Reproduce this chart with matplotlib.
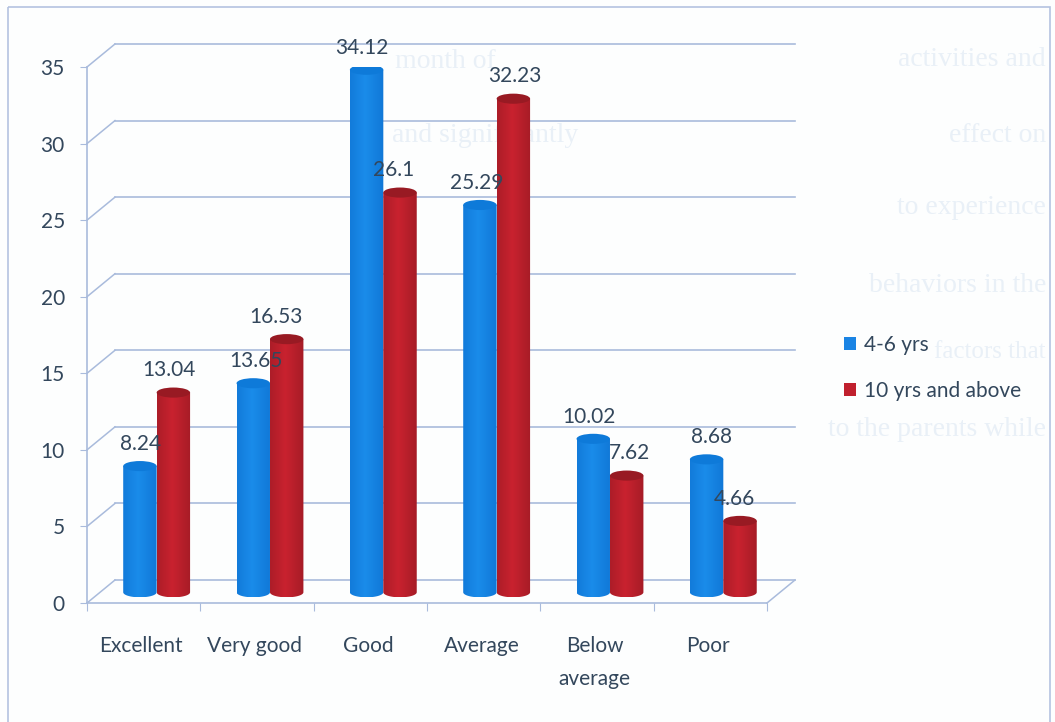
import numpy as np
from matplotlib import pyplot as plt
from matplotlib.colors import to_rgb
from matplotlib.patches import Ellipse, Patch, Rectangle
from matplotlib.path import Path

categorias = ['Excellent', 'Very good', 'Good', 'Average', 'Below\naverage', 'Poor']
serie_4_6 = [8.24, 13.65, 34.12, 25.29, 10.02, 8.68]
serie_10 = [13.04, 16.53, 26.1, 32.23, 7.62, 4.66]
etiquetas_4_6 = ['8.24', '13.65', '34.12', '25.29', '10.02', '8.68']
etiquetas_10 = ['13.04', '16.53', '26.1', '32.23', '7.62', '4.66']

W, H = 1055, 722
AZUL = ['#0f74d4', '#1a8cea', '#0e7ad9']
ROJO = ['#a01b25', '#c9222f', '#981a23']
TEXTO = '#33475c'
GRID = '#a9bbdc'
LETRA = 15

plt.rcParams['font.family'] = ['Lato', 'DejaVu Sans']
fig = plt.figure(figsize=(W / 100, H / 100), dpi=100, facecolor='#fdfefe')

# fondo: marco y texto de la pagina escaneada que se transparenta
fondo = fig.add_axes([0, 0, 1, 1], zorder=0)
fondo.set_xlim(0, W)
fondo.set_ylim(H, 0)
fondo.axis('off')
fondo.add_patch(Rectangle((8, 7), 1042, 730, fill=False, ec='#b4c2e0', lw=1.2))
fantasma = [
    (1046, 60, 'activities and', 20), (1046, 135, 'effect on', 20), (1046, 208, 'to experience', 20),
    (1046, 285, 'behaviors in the', 20), (1046, 352, 'factors that', 18), (1046, 430, 'to the parents while', 20),
]
for x, y, s, t in fantasma:
    fondo.text(x, y, s, color='#e9f0f7', fontsize=t, family='Liberation Serif', va='center', ha='right')
fondo.text(395, 62, 'month of', color='#e9f0f7', fontsize=20, family='Liberation Serif', va='center')
fondo.text(392, 135, 'and significantly', color='#e9f0f7', fontsize=20, family='Liberation Serif', va='center')

ax = fig.add_axes([87 / W, 1 - 603 / H, 680 / W, 536 / H], zorder=1)
ax.patch.set_alpha(0)

# pared y piso del grafico 3D
dx, dy = 28 / 113.3, 23 / 15.31
for v in range(0, 40, 5):
    ax.plot([-0.5, -0.5 + dx], [v, v + dy], color=GRID, lw=1.1, clip_on=False, zorder=1)
    ax.plot([-0.5 + dx, 5.5 + dx], [v + dy, v + dy], color=GRID, lw=1.2, clip_on=False, zorder=1)
ax.plot([5.5, 5.5 + dx], [0, dy], color=GRID, lw=1.1, clip_on=False, zorder=1)


def cilindro(x, valor, colores, ancho=0.295, base=0.7):
    alto_elipse = 0.33
    tope = valor + base
    filas = np.linspace(0, 1, 64)
    borde, centro = np.array(to_rgb(colores[0])), np.array(to_rgb(colores[1]))
    perfil = np.interp(filas, [0, 0.45, 1], [0.3, 1, 0.15])
    img = (borde + (centro - borde) * perfil[:, None])[None, :, :]
    izq, der = x - ancho / 2, x + ancho / 2
    im = ax.imshow(img, extent=[izq, der, base - alto_elipse, tope], aspect='auto',
                   zorder=3, interpolation='bilinear')
    t = np.linspace(np.pi, 2 * np.pi, 30)
    xs = x + ancho / 2 * np.cos(t)
    ys = base + alto_elipse * np.sin(t)
    verts = list(zip(xs, ys)) + [(der, tope), (izq, tope), (xs[0], ys[0])]
    im.set_clip_path(Path(verts), transform=ax.transData)
    ax.add_patch(Ellipse((x, tope), ancho, 2 * alto_elipse, fc=colores[2], ec='none', zorder=4))


pos = np.arange(len(categorias))
x_azul = pos - 0.033
x_rojo = pos + 0.262
for i in pos:
    cilindro(x_azul[i], serie_4_6[i], AZUL)
    cilindro(x_rojo[i], serie_10[i], ROJO)

ax.set_xlim(-0.5, 5.5)
ax.set_ylim(0, 35)

# corrimiento horizontal de cada etiqueta respecto de su barra, en px
corr_azul = [1, 3, -5, -3, -4, 5]
corr_rojo = [-4, -11, -6, 1, 3, -6]
for x, v, s, c in zip(x_azul, serie_4_6, etiquetas_4_6, corr_azul):
    ax.annotate(s, (x, v + 0.7), xytext=(c * 0.72, 16), textcoords='offset points',
                ha='center', va='center', fontsize=LETRA, color=TEXTO, zorder=6)
for x, v, s, c in zip(x_rojo, serie_10, etiquetas_10, corr_rojo):
    ax.annotate(s, (x, v + 0.7), xytext=(c * 0.72, 16), textcoords='offset points',
                ha='center', va='center', fontsize=LETRA, color=TEXTO, zorder=6)

for lado in ['top', 'right']:
    ax.spines[lado].set_visible(False)
for lado in ['left', 'bottom']:
    ax.spines[lado].set_color(GRID)
    ax.spines[lado].set_linewidth(1.2)

ax.set_yticks(range(0, 40, 5))
ax.tick_params(axis='y', colors=GRID, labelcolor=TEXTO, labelsize=LETRA, length=5, pad=11)
ax.set_xticks(np.arange(-0.5, 6, 1))
ax.set_xticklabels([])
ax.tick_params(axis='x', which='major', color=GRID, length=6)
ax.set_xticks(pos - 0.02, categorias, minor=True)
ax.tick_params(axis='x', which='minor', length=0, pad=24, labelsize=LETRA, labelcolor=TEXTO)
for lab in ax.get_xticklabels(minor=True):
    lab.set_linespacing(1.8)

fig.legend(handles=[Patch(fc='#1a84e4', label='4-6 yrs'), Patch(fc='#c0202e', label='10 yrs and above')],
           loc='upper left', bbox_to_anchor=(825 / W, 1 - 316 / H), frameon=False,
           fontsize=LETRA, labelcolor=TEXTO, labelspacing=1.25, handlelength=0.6,
           handleheight=0.6, handletextpad=0.35)

plt.savefig('out.png', dpi=100, facecolor=fig.get_facecolor())
